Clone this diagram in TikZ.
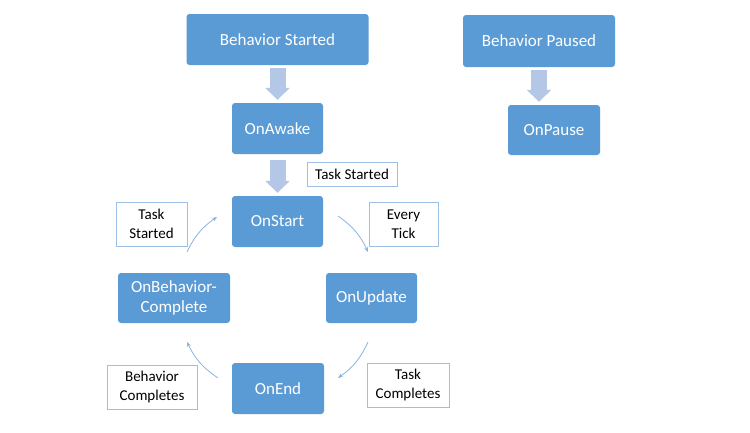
\documentclass[tikz,border=0pt]{standalone}
\usepackage{fontspec}
\setmainfont{Carlito}
\usetikzlibrary{arrows.meta}
\definecolor{boxblue}{HTML}{5B9BD5}
\definecolor{arrblue}{HTML}{B4C7E7}
\definecolor{lblborder}{HTML}{9DBFE3}
\definecolor{curveblue}{HTML}{8DB3E2}
\begin{document}
\begin{tikzpicture}[x=1pt,y=-1pt,
  bbox/.style={fill=boxblue,draw=none,rounded corners=3pt,text=white,font=\fontsize{17}{20}\selectfont,align=center,inner sep=0pt},
  lbl/.style={fill=white,draw=lblborder,line width=1pt,text=black,font=\fontsize{15}{19}\selectfont,align=center,inner sep=0pt},
  blockarrow/.style={draw=arrblue,line width=16pt,-{Triangle[width=24pt,length=12pt]},arrblue},
  curvearrow/.style={draw=curveblue,line width=0.8pt,-{Stealth[length=5pt,width=4pt]}}]
\useasboundingbox (0,0) rectangle (750,432);
\fill[white] (0,0) rectangle (750,432);
% main boxes
\node[bbox,minimum width=182pt,minimum height=51pt] (bs) at (277.5,39.5) {Behavior Started};
\node[bbox,minimum width=152pt,minimum height=52pt] (bp) at (539,41) {Behavior Paused};
\node[bbox,minimum width=91pt,minimum height=51pt] (awake) at (277.5,128.5) {OnAwake};
\node[bbox,minimum width=92pt,minimum height=50pt] (pause) at (554,130) {OnPause};
\node[bbox,minimum width=91pt,minimum height=51pt] (start) at (277.5,221.5) {OnStart};
\node[bbox,minimum width=91pt,minimum height=50pt] (update) at (371.5,298) {OnUpdate};
\node[bbox,minimum width=112pt,minimum height=50pt] (obc) at (174,298) {OnBehavior-\\Complete};
\node[bbox,minimum width=92pt,minimum height=51pt] (end) at (278,388.5) {OnEnd};
% labels
\node[lbl,minimum width=90pt,minimum height=24pt] (ts1) at (352,174) {Task Started};
\node[lbl,minimum width=71pt,minimum height=44pt] (ts2) at (151.5,224) {Task\\Started};
\node[lbl,minimum width=69pt,minimum height=44pt] (tick) at (403.5,224) {Every\\Tick};
\node[lbl,minimum width=90pt,minimum height=44pt] (bc) at (152,387) {Behavior\\Completes};
\node[lbl,minimum width=82pt,minimum height=44pt] (tc) at (408,385) {Task\\Completes};
% block arrows
\draw[blockarrow,shorten <=3pt,shorten >=3pt] (bs.south) -- (awake.north);
\draw[blockarrow,shorten <=3pt,shorten >=3pt] (bp.south) -- (pause.north-|bp.south);
\draw[blockarrow,shorten <=6pt,shorten >=3pt] (awake.south) -- (start.north);
% curved arrows
\coordinate (c1a) at (187,252); \coordinate (c1b) at (217,217);
\coordinate (c2a) at (338,216); \coordinate (c2b) at (368,252);
\coordinate (c3a) at (368,342); \coordinate (c3b) at (338,378);
\coordinate (c4a) at (218,378); \coordinate (c4b) at (187,342);
\draw[curvearrow] (c1a) to[bend left=15] (c1b);
\draw[curvearrow] (c2a) to[bend left=15] (c2b);
\draw[curvearrow] (c3a) to[bend left=15] (c3b);
\draw[curvearrow] (c4a) to[bend left=15] (c4b);
\end{tikzpicture}
\end{document}
